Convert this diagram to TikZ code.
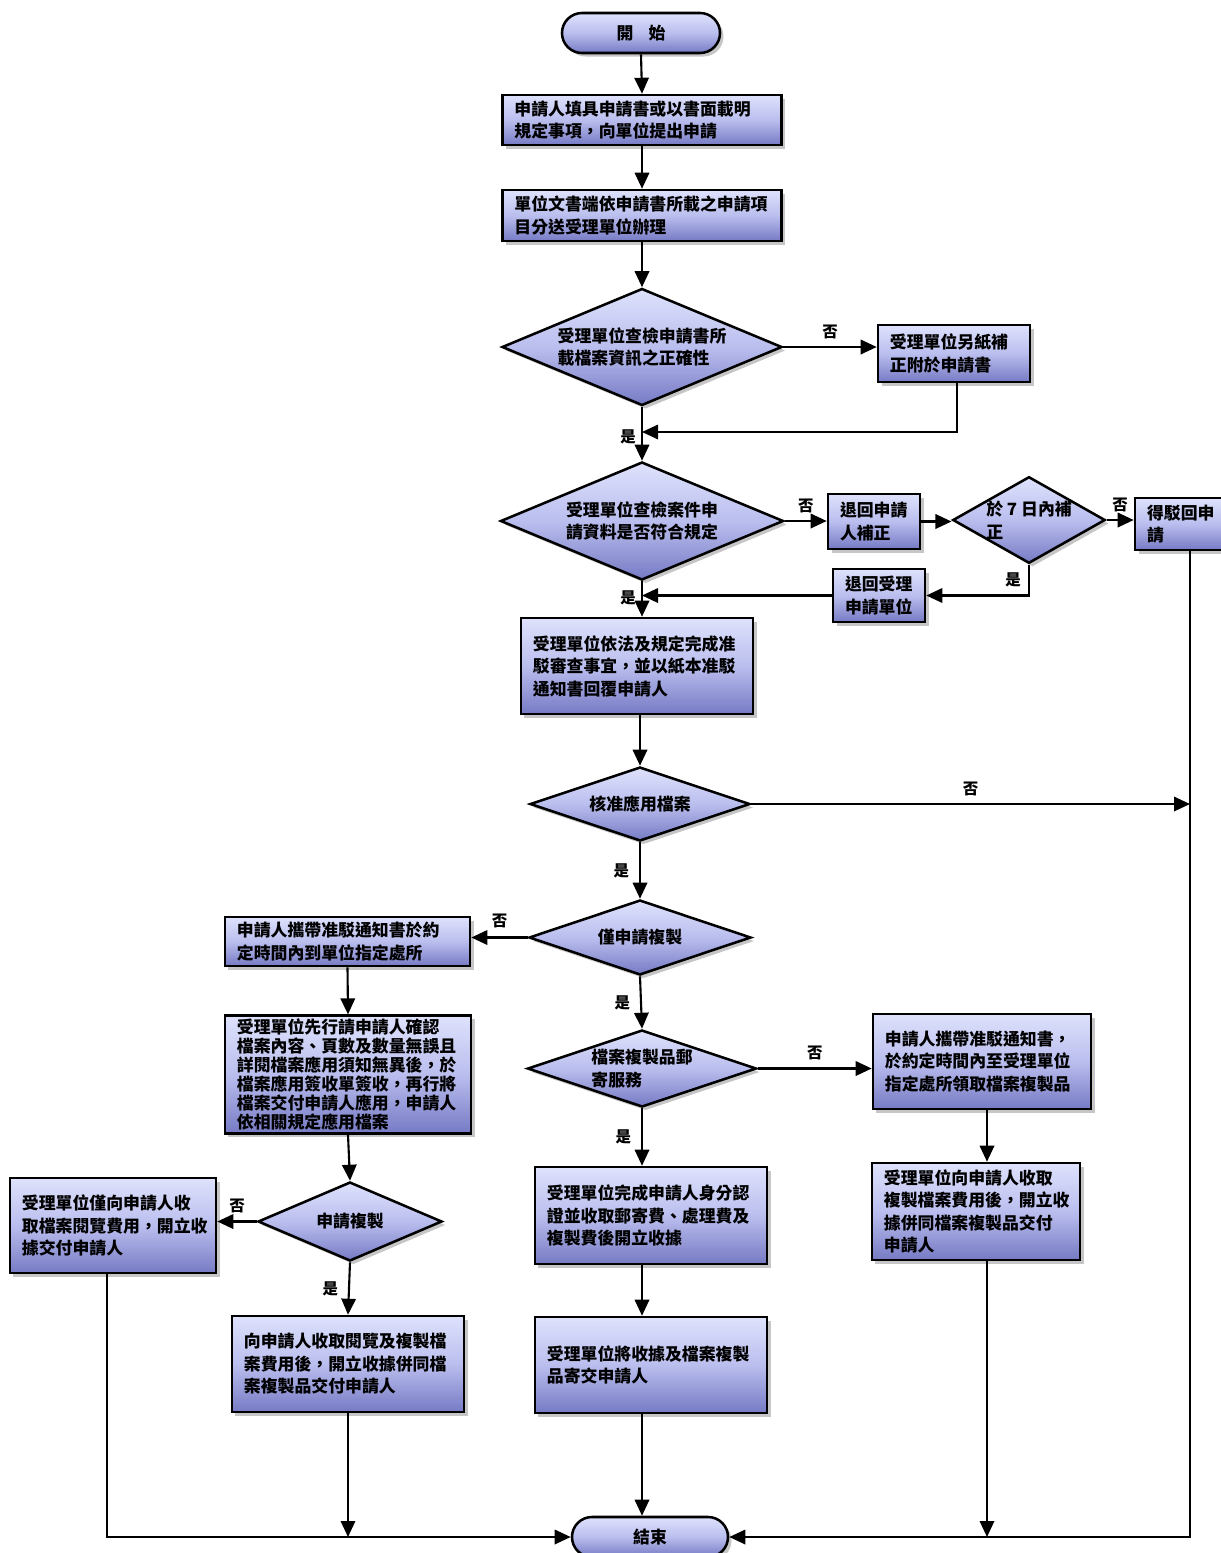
\documentclass[tikz,border=0pt]{standalone}
\usepackage{fontspec}
\newfontfamily\cjk{Noto Sans CJK TC}
\usepackage{tikz}
\usetikzlibrary{arrows.meta, positioning, shapes.geometric, shapes.misc, shadows}

\definecolor{cajaarriba}{RGB}{222,226,252}
\definecolor{cajamedio}{RGB}{186,190,238}
\definecolor{cajaabajo}{RGB}{118,122,196}

\begin{document}
\begin{tikzpicture}[
    x=0.025cm, y=-0.025cm,
    font=\cjk\bfseries\fontsize{12}{16}\selectfont,
    relleno/.style = {draw=black, line width=1.8pt,
                      top color=cajaarriba, bottom color=cajaabajo,
                      middle color=cajamedio,
                      drop shadow={shadow xshift=2.5pt, shadow yshift=-2.5pt,
                                   opacity=0.45}},
    caja/.style    = {rectangle, relleno, align=left, inner xsep=0.3cm,
                      inner ysep=2pt},
    rombo/.style   = {diamond, relleno, align=left, inner sep=0pt, aspect=2.4},
    borne/.style   = {rounded rectangle, relleno, minimum width=3.95cm,
                      minimum height=1.0cm, inner sep=0pt},
    flecha/.style  = {-{Triangle[length=4mm,width=3.6mm]}, line width=1.5pt},
    linea/.style   = {line width=1.5pt},
    nombre/.style  = {font=\cjk\bfseries\fontsize{11}{12}\selectfont, inner sep=1pt},
  ]
  \useasboundingbox (0,0) rectangle (1221,1553);

  %-------------------------------------------------- inicio y columna central
  \node[borne] (ini) at (641,33) {開\hspace{0.9em}始};

  \node[caja, text width=6.375cm, minimum height=1.25cm] (b1) at (642,120)
    {申請人填具申請書或以書面載明\\規定事項，向單位提出申請};
  \node[caja, text width=6.375cm, minimum height=1.275cm] (b2) at (642,215.5)
    {單位文書端依申請書所載之申請項\\目分送受理單位辦理};

  \node[rombo, minimum width=7cm, minimum height=2.925cm] (d1) at (642,347)
    {受理單位查檢申請書所\\載檔案資訊之正確性};
  \node[caja, text width=3.2cm, minimum height=1.425cm] (c1) at (954,353.5)
    {受理單位另紙補\\正附於申請書};

  \node[rombo, minimum width=7.075cm, minimum height=2.95cm] (d2) at (642,521)
    {受理單位查檢案件申\\請資料是否符合規定};
  \node[caja, text width=1.7cm, minimum height=1.375cm] (r1) at (874,521.5)
    {退回申請\\人補正};
  \node[rombo, aspect=1.76, minimum width=3.7cm, minimum height=2.1cm] (d3)
    at (1029,520) {於 7 日內補\\正};
  \node[caja, text width=1.9cm, minimum height=1.3cm] (r2) at (1185,524)
    {得駁回申\\請};
  \node[caja, text width=1.7cm, minimum height=1.325cm] (r3) at (879,595.5)
    {退回受理\\申請單位};

  \node[caja, text width=5.2cm, minimum height=2.4cm] (b3) at (637,666)
    {受理單位依法及規定完成准\\駁審查事宜，並以紙本准駁\\通知書回覆申請人};

  \node[rombo, minimum width=5.5cm, minimum height=1.85cm] (d4) at (640,804)
    {核准應用檔案};
  \node[rombo, minimum width=5.55cm, minimum height=1.875cm] (d5) at (640,937.5)
    {僅申請複製};
  \node[rombo, aspect=3, minimum width=5.725cm, minimum height=1.925cm] (d6)
    at (642,1068.5) {檔案複製品郵\\寄服務};

  %-------------------------------------------------- rama izquierda
  \node[caja, text width=5.525cm, minimum height=1.225cm] (l1) at (347.5,941.5)
    {申請人攜帶准駁通知書於約\\定時間內到單位指定處所};
  \node[caja, text width=5.55cm, minimum height=2.875cm,
        font=\cjk\bfseries\fontsize{12}{13.6}\selectfont] (l2) at (348,1074.5)
    {受理單位先行請申請人確認\\檔案內容、頁數及數量無誤且\\詳閱檔案應用須知無異後，於\\檔案應用簽收單簽收，再行將\\檔案交付申請人應用，申請人\\依相關規定應用檔案};
  \node[rombo, minimum width=4.6cm, minimum height=1.975cm] (d7) at (350,1221.5)
    {申請複製};
  \node[caja, text width=4.55cm, minimum height=2.375cm] (ll) at (113,1225.5)
    {受理單位僅向申請人收\\取檔案閱覽費用，開立收\\據交付申請人};
  \node[caja, text width=5.2cm, minimum height=2.4cm] (l3) at (348,1364)
    {向申請人收取閱覽及複製檔\\案費用後，開立收據併同檔\\案複製品交付申請人};

  %-------------------------------------------------- rama central y derecha
  \node[caja, text width=5.2cm, minimum height=2.425cm] (m1) at (651,1215.5)
    {受理單位完成申請人身分認\\證並收取郵寄費、處理費及\\複製費後開立收據};
  \node[caja, text width=5.2cm, minimum height=2.4cm] (m2) at (651,1365)
    {受理單位將收據及檔案複製\\品寄交申請人};
  \node[caja, text width=4.85cm, minimum height=2.375cm] (rr1) at (982,1061.5)
    {申請人攜帶准駁通知書，\\於約定時間內至受理單位\\指定處所領取檔案複製品};
  \node[caja, text width=4.6cm, minimum height=2.425cm] (rr2) at (976,1211.5)
    {受理單位向申請人收取\\複製檔案費用後，開立收\\據併同檔案複製品交付\\申請人};

  \node[borne, minimum width=3.9cm] (fin) at (650,1537) {結束};

  %-------------------------------------------------- puntos de paso
  \coordinate (j1) at (642,432);
  \coordinate (cd) at (1190,550);
  \coordinate (cr) at (987,0);
  \coordinate (cl) at (107,0);

  %-------------------------------------------------- flujo principal
  \draw[flecha] (ini.south) -- (b1.north);
  \draw[flecha] (b1.south) -- (b2.north);
  \draw[flecha] (b2.south) -- (d1.north);

  \draw[flecha] (d1.east) -- node[nombre, above=4pt] (no1) {否} (d1.east -| c1.west);
  \draw[flecha] (c1.south -| 957,0) |- (j1);
  \draw[flecha] (d1.south) -- (d2.north);
  \node[nombre] (si1) at (628,437) {是};

  \draw[flecha] (d2.east) -- node[nombre, above=4pt] (no2) {否} (d2.east -| r1.west);
  \draw[flecha] (r1.east) -- (r1.east -| d3.west);
  \draw[flecha] (d3.east) -- node[nombre, above=4pt] (no3) {否} (d3.east -| r2.west);
  \draw[flecha] (d3.south) |- (r3.east);
  \node[nombre] (si2) at (1013,580) {是};
  \draw[flecha] (r3.west) -- (r3.west -| d2.south);
  \node[nombre] (si3) at (628,598) {是};

  \draw[flecha] (d2.south) -- (d2.south |- b3.north);
  \draw[flecha] (b3.south -| d4.north) -- (d4.north);

  \draw[flecha] (d4.east) -- node[nombre, above=4pt] (no4) {否} (d4.east -| cd);
  \draw[flecha] (d4.south) -- node[nombre, left=6pt] (si4) {是} (d5.north);

  \draw[flecha] (d5.west) -- node[nombre, above=5pt] (no5) {否} (d5.west -| l1.east);
  \draw[flecha] (d5.south) -- node[nombre, left=6pt] (si5) {是} (d6.north);

  \draw[flecha] (d6.east) -- node[nombre, above=4pt] (no6) {否} (d6.east -| rr1.west);
  \draw[flecha] (d6.south) -- node[nombre, left=6pt] (si6) {是} (d6.south |- m1.north);
  \draw[flecha] (m1.south -| d6.south) -- (m2.north -| d6.south);
  \draw[flecha] (m2.south -| d6.south) -- (fin.north -| d6.south);

  %-------------------------------------------------- rama izquierda
  \draw[flecha] (l1.south) -- (l2.north);
  \draw[flecha] (l2.south) -- (d7.north);
  \draw[flecha] (d7.west) -- node[nombre, above=4pt] (no7) {否} (d7.west -| ll.east);
  \draw[flecha] (d7.south) -- node[nombre, left=6pt] (si7) {是} (l3.north);

  %-------------------------------------------------- rama derecha
  \draw[flecha] (rr1.south -| cr) -- (rr2.north -| cr);

  %-------------------------------------------------- hacia el final
  \draw[flecha] (ll.south -| cl) |- (fin.west);
  \draw[flecha] (l3.south) -- (l3.south |- fin.west);
  \draw[flecha] (rr2.south -| cr) -- (cr |- fin.east);
  \draw[flecha] (cd) |- (fin.east);
\end{tikzpicture}
\end{document}
